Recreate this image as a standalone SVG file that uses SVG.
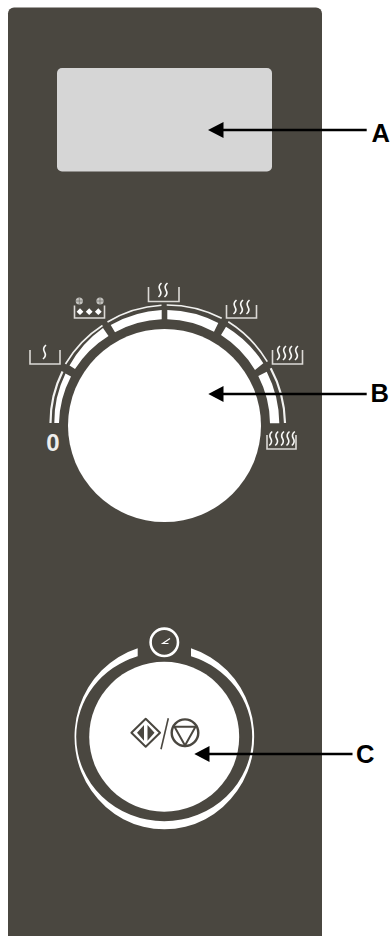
<svg xmlns="http://www.w3.org/2000/svg" width="391" height="936" viewBox="0 0 391 936">
<style>
.lab{font-family:"Liberation Sans",Arial,sans-serif;font-weight:700;font-size:25.5px;fill:#000}
.pan{fill:none;stroke:#dcdad6;stroke-width:1.6}
.sq{fill:none;stroke:#f8f8f6;stroke-width:1.6}
.band{fill:#fff}
.thin{fill:none;stroke:#f2f2f0;stroke-width:1.6}
.ln{stroke:#000;stroke-width:2.5;fill:none}
.dk{fill:none;stroke:#4a4740;stroke-width:2}
.flake{fill:#c4c3bf}
.spoke{stroke:#6e6c66;stroke-width:.7;fill:none}
</style>
<defs>
<path id="s" class="sq" d="M1.5 0C-1.5 2.500-1.500 4.500 0 7S1.500 11.500-1.500 14"/>
</defs>
<rect id="panel" x="8" y="7.500" width="314" height="940" rx="6" fill="#4a4740"/>
<g id="display"><rect x="57" y="68" width="215" height="103.500" rx="5" fill="#d6d6d6"/></g>
<g id="dial">
<circle cx="164.500" cy="425.500" r="96.500" fill="#fff"/>
<path class="band" d="M54.300 423A110 110 0 0 1 65.500 373.500L71 376.500A105.500 105.500 0 0 0 59 423Z"/>
<path class="band" d="M69.500 365.500A113 113 0 0 1 103 328L108.500 336A105.500 105.500 0 0 0 75 369Z"/>
<path class="band" d="M110.700 325A115 115 0 0 1 161.700 310V319.300A105.500 105.500 0 0 0 115 332.300Z"/>
<path class="band" d="M167.300 310A115 115 0 0 1 218.300 323L214 331.700A105.500 105.500 0 0 0 167.300 319.300Z"/>
<path class="band" d="M226 326.700A115 115 0 0 1 263.300 363.300L255 370A105.500 105.500 0 0 0 221 335Z"/>
<path class="band" d="M266.700 371.700A115 115 0 0 1 279.300 423.300H270A105.500 105.500 0 0 0 258.300 376Z"/>
<path class="thin" style="stroke-width:2.200" d="M50.500 423A114 114 0 0 1 62.500 371.500"/>
<path class="thin" d="M65.500 364A116 116 0 0 1 102.500 325.500"/>
<path class="thin" d="M107.500 322A118 118 0 0 1 161.500 305.300"/>
<path class="thin" d="M166.700 305A120 120 0 0 1 221.700 318.300"/>
<path class="thin" d="M228.300 321.700A120 120 0 0 1 267.300 361.700"/>
<path class="thin" style="stroke-width:2.200" d="M270.700 368.300A120 120 0 0 1 285 423"/>
</g>
<g id="mode-1"><path class="pan" d="M30 350V364H60V350"/><use href="#s" x="44.500" y="345"/></g>
<g id="mode-2"><path class="pan" d="M74.500 305.500V318H104.500V305.500"/><circle class="flake" cx="79.300" cy="301" r="3.600"/><circle class="flake" cx="100" cy="301" r="3.600"/><path class="spoke" d="M76 301H82.600M79.300 297.700V304.300M96.700 301H103.300M100 297.700V304.300"/><path fill="#fff" d="M80 308.300L83.400 311.700L80 315.100L76.600 311.700ZM89.200 308.300L92.600 311.700L89.200 315.100L85.800 311.700ZM98.300 308.300L101.700 311.700L98.300 315.100L94.900 311.700Z"/></g>
<g id="mode-3"><path class="pan" d="M148.500 287V301.500H179V287"/><use href="#s" x="160" y="283"/><use href="#s" x="166" y="283"/></g>
<g id="mode-4"><path class="pan" d="M226.500 305V318H256.500V305"/><use href="#s" x="235" y="300"/><use href="#s" x="241.500" y="300"/><use href="#s" x="248" y="300"/></g>
<g id="mode-5"><path class="pan" d="M272.500 350V364H302.500V350"/><use href="#s" x="278.500" y="346"/><use href="#s" x="284.500" y="346"/><use href="#s" x="290.500" y="346"/><use href="#s" x="296.500" y="346"/></g>
<g id="mode-6"><path class="pan" d="M267 435V449H296V435"/><use href="#s" x="270.700" y="431.500"/><use href="#s" x="276.700" y="431.500"/><use href="#s" x="282.500" y="431.500"/><use href="#s" x="288" y="431.500"/><use href="#s" x="293.300" y="431.500"/></g>
<text id="zero" x="53" y="450.500" text-anchor="middle" font-family="'Liberation Sans',Arial,sans-serif" font-weight="700" font-size="24" fill="#eeeeec">0</text>
<g id="timer"><circle cx="164.300" cy="642.300" r="13.700" fill="none" stroke="#fff" stroke-width="2.600"/><path d="M170 638.500L162.700 643.500H168.500" fill="none" stroke="#fff" stroke-width="1.200"/></g>
<g id="button">
<circle cx="164.200" cy="736.700" r="75" fill="#fff"/>
<path fill="#fff" fill-rule="evenodd" d="M137.700 648.300A89.800 92.600 0 1 0 191 648.300L191 656.200A88 84.500 0 0 1 252.200 736.700A88 84.500 0 0 1 76.200 736.700A88 84.500 0 0 1 137.700 656.200Z"/>
<path class="dk" d="M145.700 718.700L160 732.700L145.700 746.700L131.400 732.700Z" stroke-linejoin="round"/>
<path d="M144 725V740.700L137 732.700ZM147.500 725V740.700L154.500 732.700Z" fill="#4a4740"/>
<path class="dk" style="stroke-width:1.600" d="M168.300 718.300L161 749.300"/>
<circle class="dk" style="stroke-width:2.400" cx="185" cy="732.700" r="13.300"/>
<path d="M174.500 726.700H195.500L185 745.500Z" fill="none" stroke="#4a4740" stroke-width="2"/>
</g>
<g id="connectors">
<path class="ln" d="M366.700 130H223"/>
<path d="M208 130L223.500 122V138Z"/>
<path class="ln" d="M366.700 394H223"/>
<path d="M208.300 394L223.500 386V402Z"/>
<path class="ln" d="M352.500 754H209"/>
<path d="M194.300 754L209.500 746V762Z"/>
</g>
<g id="labels">
<text class="lab" x="371.500" y="141.700">A</text>
<text class="lab" x="370.500" y="401.500">B</text>
<text class="lab" x="356" y="763">C</text>
</g>
</svg>
